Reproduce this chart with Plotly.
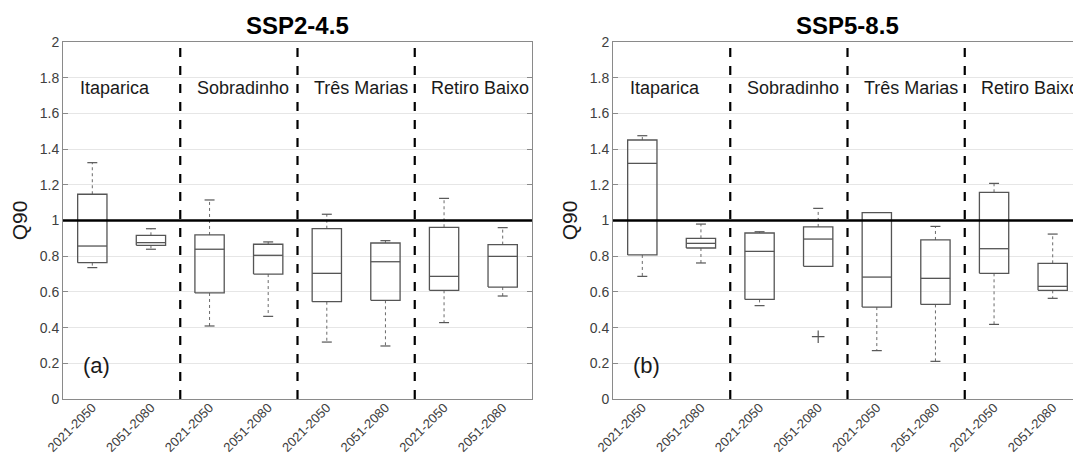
import plotly.graph_objects as go

# ---------------- data ----------------
sites = ["Itaparica", "Sobradinho", "Três Marias", "Retiro Baixo"]
periods = ["2021-2050", "2051-2080"]
tick_labels = [p for s in sites for p in periods]
scenarios = ["SSP2-4.5", "SSP5-8.5"]
panel_tags = ["(a)", "(b)"]
ref_level = 1.0

# SSP2-4.5 (order: site x period)
ssp245_upper = [1.324, 0.954, 1.115, 0.880, 1.035, 0.887, 1.124, 0.960]
ssp245_q3 = [1.147, 0.917, 0.919, 0.867, 0.954, 0.874, 0.962, 0.865]
ssp245_median = [0.857, 0.876, 0.839, 0.805, 0.704, 0.769, 0.687, 0.799]
ssp245_q1 = [0.764, 0.861, 0.594, 0.700, 0.545, 0.553, 0.609, 0.627]
ssp245_lower = [0.736, 0.839, 0.409, 0.463, 0.319, 0.297, 0.428, 0.577]
ssp245_outliers = [[], [], [], [], [], [], [], []]

# SSP5-8.5
ssp585_upper = [1.475, 0.980, 0.937, 1.068, 1.044, 0.967, 1.208, 0.924]
ssp585_q3 = [1.451, 0.900, 0.930, 0.964, 1.044, 0.891, 1.158, 0.760]
ssp585_median = [1.320, 0.872, 0.827, 0.896, 0.683, 0.676, 0.842, 0.631]
ssp585_q1 = [0.807, 0.846, 0.558, 0.743, 0.515, 0.530, 0.704, 0.609]
ssp585_lower = [0.687, 0.762, 0.523, 0.743, 0.271, 0.211, 0.418, 0.564]
ssp585_outliers = [[], [], [], [0.349], [], [], [], []]

panels = [
    (ssp245_lower, ssp245_q1, ssp245_median, ssp245_q3, ssp245_upper, ssp245_outliers),
    (ssp585_lower, ssp585_q1, ssp585_median, ssp585_q3, ssp585_upper, ssp585_outliers),
]

# ---------------- styling ----------------
FONT = "Liberation Sans, Arial, sans-serif"
W, H = 1073, 456
BOX_HALF = 0.25
CAP_HALF = 0.085
BOX_COLOR = "#555555"
TICK_COLOR = "#404040"
AX_COLOR = "#8a8a8a"
GRID_COLOR = "#e6e6e6"

positions = list(range(1, len(tick_labels) + 1))
n_per_site = len(periods)
separators = [n_per_site * k + 0.5 for k in range(1, len(sites))]

fig = go.Figure()

for pi, (lo, q1, med, q3, up, outs) in enumerate(panels):
    xa = "x" if pi == 0 else "x2"
    ya = "y" if pi == 0 else "y2"
    bx, by, mx, my, wx, wy, cx, cy, ox, oy = [], [], [], [], [], [], [], [], [], []
    for i, c in enumerate(positions):
        bx += [c - BOX_HALF, c + BOX_HALF, c + BOX_HALF, c - BOX_HALF, c - BOX_HALF, None]
        by += [q1[i], q1[i], q3[i], q3[i], q1[i], None]
        mx += [c - BOX_HALF, c + BOX_HALF, None]
        my += [med[i], med[i], None]
        if up[i] > q3[i]:
            wx += [c, c, None]
            wy += [q3[i], up[i], None]
            cx += [c - CAP_HALF, c + CAP_HALF, None]
            cy += [up[i], up[i], None]
        if lo[i] < q1[i]:
            wx += [c, c, None]
            wy += [q1[i], lo[i], None]
            cx += [c - CAP_HALF, c + CAP_HALF, None]
            cy += [lo[i], lo[i], None]
        for o in outs[i]:
            ox.append(c)
            oy.append(o)
    common = dict(xaxis=xa, yaxis=ya, showlegend=False, hoverinfo="skip")
    fig.add_trace(go.Scatter(x=wx, y=wy, mode="lines",
                             line=dict(color="#6a6a6a", width=1, dash="dot"), **common))
    fig.add_trace(go.Scatter(x=cx, y=cy, mode="lines",
                             line=dict(color=BOX_COLOR, width=1.2), **common))
    fig.add_trace(go.Scatter(x=bx, y=by, mode="lines",
                             line=dict(color=BOX_COLOR, width=1.3), **common))
    fig.add_trace(go.Scatter(x=mx, y=my, mode="lines",
                             line=dict(color=BOX_COLOR, width=1.3), **common))
    if ox:
        fig.add_trace(go.Scatter(x=ox, y=oy, mode="markers",
                                 marker=dict(symbol="cross-thin", size=9,
                                             line=dict(color=BOX_COLOR, width=1.2)),
                                 **common))

    # reference line at 1 and dashed site separators
    fig.add_shape(type="line", xref=f"{xa} domain", yref=ya, x0=0, x1=1,
                  y0=ref_level, y1=ref_level, line=dict(color="black", width=2.5), layer="above")
    for s in separators:
        fig.add_shape(type="line", xref=xa, yref=f"{ya} domain", x0=s, x1=s, y0=0, y1=1,
                      line=dict(color="black", width=2.2, dash="dash"), layer="above")

    # site labels
    for k, name in enumerate(sites):
        fig.add_annotation(xref=xa, yref=ya, x=n_per_site * k + 0.75, y=1.745,
                           text=name, showarrow=False, xanchor="left", yanchor="middle",
                           font=dict(family=FONT, size=18, color="#1a1a1a"))
    # panel tag
    fig.add_annotation(xref=xa, yref=ya, x=0.8, y=0.19, text=panel_tags[pi],
                       showarrow=False, xanchor="left", yanchor="middle",
                       font=dict(family=FONT, size=22, color="#1a1a1a"))
    # title centred on the full axes
    fig.add_annotation(xref=xa, yref="paper", x=(0.5 + len(positions) + 0.5) / 2, y=1.046,
                       text=f"<b>{scenarios[pi]}</b>", showarrow=False,
                       xanchor="center", yanchor="middle",
                       font=dict(family=FONT, size=24, color="black"))

yvals = [round(0.2 * k, 1) for k in range(11)]
ytext = [("%g" % v) for v in yvals]

L0, L1 = 63 / W, 532 / W
R0 = 613 / W
span_px = (532 - 63) / 8.0
r_max = 0.5 + (W - 613) / span_px

xcommon = dict(tickmode="array", tickvals=positions, ticktext=tick_labels, tickangle=-45,
               tickfont=dict(family=FONT, size=13, color=TICK_COLOR), ticklabelstandoff=-5,
               showline=True, linecolor=AX_COLOR, linewidth=1, showgrid=False,
               zeroline=False, ticks="", fixedrange=True, automargin=False)
ycommon = dict(range=[0, 2], tickmode="array", tickvals=yvals, ticktext=ytext,
               tickfont=dict(family=FONT, size=14, color=TICK_COLOR),
               showline=True, linecolor=AX_COLOR, linewidth=1,
               showgrid=True, gridcolor=GRID_COLOR, gridwidth=1, zeroline=False,
               ticks="inside", ticklen=5, tickcolor=AX_COLOR, automargin=False,
               title=dict(text="Q90", font=dict(family=FONT, size=21, color="#1a1a1a"), standoff=6))

fig.update_layout(
    width=W, height=H,
    margin=dict(l=0, r=0, t=42, b=57),
    paper_bgcolor="white", plot_bgcolor="white",
    xaxis=dict(domain=[L0, L1], range=[0.5, 8.5], anchor="y", mirror=True, **xcommon),
    yaxis=dict(anchor="x", mirror="ticks", **ycommon),
    xaxis2=dict(domain=[R0, 1.0], range=[0.5, r_max], anchor="y2", mirror=True, **xcommon),
    yaxis2=dict(anchor="x2", mirror=False, **ycommon),
    font=dict(family=FONT),
)

fig.write_html("out.html")
